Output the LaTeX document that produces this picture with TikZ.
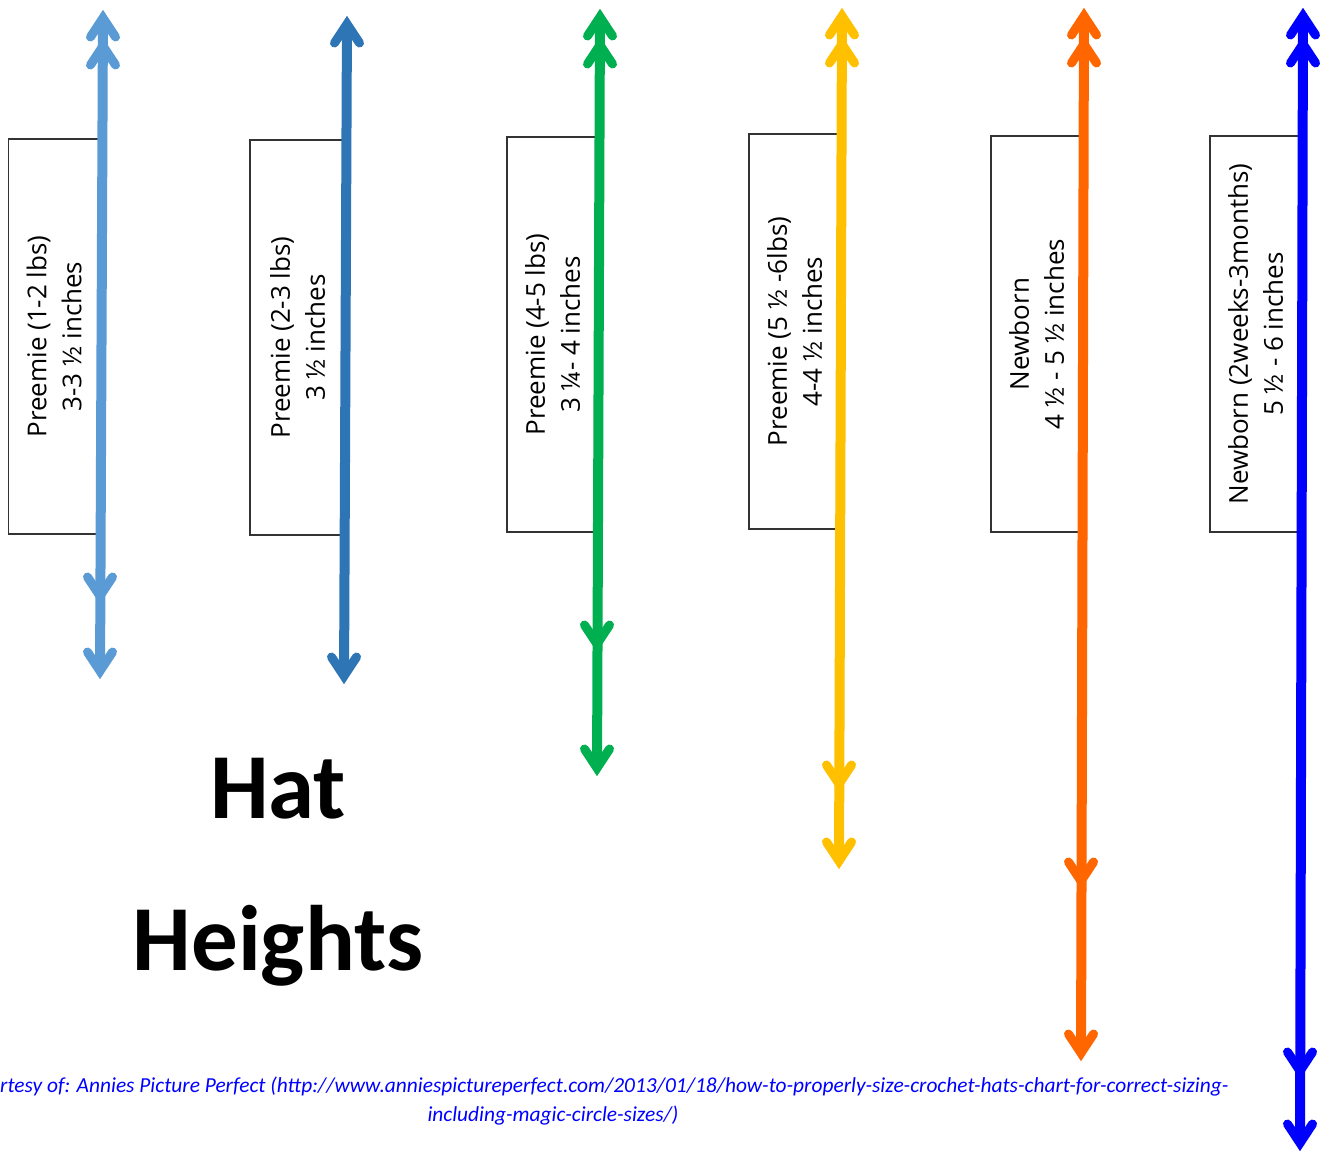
\documentclass[tikz,border=0pt]{standalone}
\usepackage{fontspec}
\setmainfont{Open Sans}
\newfontfamily\calib{Carlito}
\definecolor{lbc}{HTML}{5B9BD5}
\definecolor{dbc}{HTML}{2E75B6}
\definecolor{grc}{HTML}{00B050}
\definecolor{yec}{HTML}{FFC000}
\definecolor{orc}{HTML}{FF6600}
\definecolor{blc}{HTML}{0000FF}
\tikzset{
  sizebox/.style={draw=black!80, line width=1.1pt, rotate=90, minimum width=395pt, minimum height=91pt,
    inner sep=0pt, align=center, font=\fontsize{26}{35}\selectfont},
  shaft/.style={line width=10pt, shorten <=12pt, shorten >=12pt},
  vhead/.pic={\draw[line width=9pt, line cap=round, line join=miter] (-12.5,28) -- (0,9) -- (12.5,28);},
  titletext/.style={anchor=base, inner sep=0pt, text=black, font=\calib\bfseries\fontsize{93}{93}\selectfont},
  credit/.style={inner sep=0pt, text=blc, font=\calib\itshape\fontsize{21.4}{28}\selectfont}
}
\begin{document}
\begin{tikzpicture}[x=1pt,y=-1pt]
\useasboundingbox (0,0) rectangle (1332,1151);
\clip (0,0) rectangle (1332,1151);
\fill[white] (0,0) rectangle (1332,1151);

% boxes
\node[sizebox] (b1) at (54,336.5) {Preemie (1-2 lbs)\\3-3 ½ inches};
\node[sizebox, minimum height=95pt] (b2) at (297.5,337.5) {Preemie (2-3 lbs)\\3 ½ inches};
\node[sizebox] (b3) at (552.5,334.5) {Preemie (4-5 lbs)\\3 ¼- 4 inches};
\node[sizebox] (b4) at (794.5,331.5) {Preemie (5 ½ -6lbs)\\4-4 ½ inches};
\node[sizebox, minimum width=396pt] (b5) at (1036.5,334) {Newborn\\4 ½ - 5 ½ inches};
\node[sizebox, minimum width=396pt] (b6) at (1255.5,334) {Newborn (2weeks-3months)\\5 ½ - 6 inches};

% arrow end coordinates
\coordinate (lbT) at (103,9);   \coordinate (lbB) at (100,680);
\coordinate (dbT) at (347,15);  \coordinate (dbB) at (344,685);
\coordinate (grT) at (600,8);   \coordinate (grB) at (597,777);
\coordinate (yeT) at (842,7);   \coordinate (yeB) at (839,870);
\coordinate (orT) at (1084,7);  \coordinate (orB) at (1081,1062);
\coordinate (blT) at (1303,7);  \coordinate (blB) at (1300,1152);

% light blue
\draw[lbc, shaft] (lbT) -- (lbB);
\pic[lbc] at (lbT) {vhead}; \pic[lbc] at (103,37) {vhead};
\pic[lbc, rotate=180] at (lbB) {vhead}; \pic[lbc, rotate=180] at (100,605) {vhead};
% dark blue
\draw[dbc, shaft] (dbT) -- (dbB);
\pic[dbc] at (dbT) {vhead};
\pic[dbc, rotate=180] at (dbB) {vhead};
% green
\draw[grc, shaft] (grT) -- (grB);
\pic[grc] at (grT) {vhead}; \pic[grc] at (600,36) {vhead};
\pic[grc, rotate=180] at (grB) {vhead}; \pic[grc, rotate=180] at (597,653) {vhead};
% yellow
\draw[yec, shaft] (yeT) -- (yeB);
\pic[yec] at (yeT) {vhead}; \pic[yec] at (842,35) {vhead};
\pic[yec, rotate=180] at (yeB) {vhead}; \pic[yec, rotate=180] at (839,793) {vhead};
% orange
\draw[orc, shaft] (orT) -- (orB);
\pic[orc] at (orT) {vhead}; \pic[orc] at (1084,35) {vhead};
\pic[orc, rotate=180] at (orB) {vhead}; \pic[orc, rotate=180] at (1081,890) {vhead};
% blue
\draw[blc, shaft] (blT) -- (blB);
\pic[blc] at (blT) {vhead}; \pic[blc] at (1303,35) {vhead};
\pic[blc, rotate=180] at (blB) {vhead}; \pic[blc, rotate=180] at (1300,1080) {vhead};

% title
\node[titletext] (hat) at (278,818) {Hat};
\node[titletext] (hei) at (278,970) {Heights};

% credit
\node[credit, anchor=base west] (c1) at (0,1092) {rtesy of: Annies Picture Perfect (http://www.anniespictureperfect.com/2013/01/18/how-to-properly-size-crochet-hats-chart-for-correct-sizing-};
\node[credit, anchor=base] (c2) at (553,1121) {including-magic-circle-sizes/)};
\end{tikzpicture}
\end{document}
